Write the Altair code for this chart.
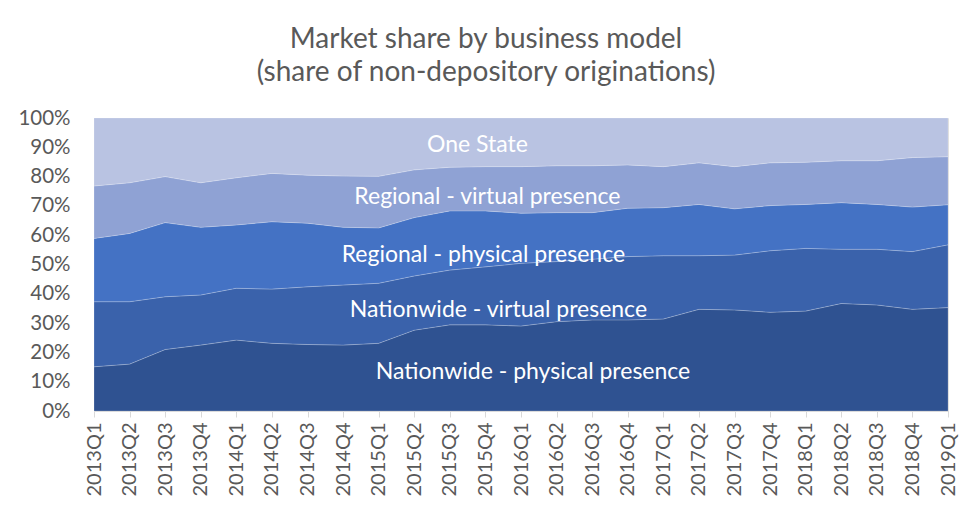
import altair as alt
import pandas as pd

quarters = [f"{y}Q{q}" for y in range(2013, 2019) for q in range(1, 5)] + ["2019Q1"]

series_names = [
    "Nationwide - physical presence",
    "Nationwide - virtual presence",
    "Regional - physical presence",
    "Regional - virtual presence",
    "One State",
]

nationwide_physical = [15.1, 16.0, 21.0, 22.5, 24.2, 23.1, 22.7, 22.5, 23.1, 27.6, 29.4, 29.4, 29.0,
                       30.5, 31.1, 31.1, 31.4, 34.7, 34.5, 33.7, 34.1, 36.7, 36.2, 34.7, 35.3]
nationwide_virtual = [22.2, 21.3, 18.0, 17.1, 17.7, 18.5, 19.7, 20.5, 20.5, 18.5, 18.7, 19.8, 21.4,
                      20.5, 20.7, 21.6, 21.6, 18.3, 18.7, 21.0, 21.4, 18.5, 19.0, 19.7, 21.4]
regional_physical = [21.6, 23.3, 25.3, 23.1, 21.6, 23.0, 21.7, 19.7, 18.9, 19.9, 20.2, 19.1, 17.1,
                     16.7, 15.9, 16.5, 16.4, 17.5, 15.8, 15.4, 15.0, 15.9, 15.3, 15.2, 13.7]
regional_virtual = [17.9, 17.3, 15.7, 15.2, 16.1, 16.5, 16.4, 17.5, 17.6, 16.3, 14.9, 15.1, 15.9,
                    16.0, 16.0, 14.8, 14.0, 14.2, 14.4, 14.6, 14.4, 14.3, 14.9, 16.9, 16.4]
one_state = [23.2, 22.1, 20.0, 22.1, 20.4, 18.9, 19.5, 19.8, 19.9, 17.7, 16.8, 16.6, 16.6,
             16.3, 16.3, 16.0, 16.6, 15.3, 16.6, 15.3, 15.1, 14.6, 14.6, 13.5, 13.2]

colors = ["#2F5291", "#3A62AB", "#4472C4", "#8FA2D4", "#B9C3E2"]

# label placement: (series, quarter, y value %, dx)
label_quarters = ["2016Q1", "2015Q4", "2015Q4", "2015Q4", "2015Q4"]
label_values = [13.3, 34.5, 53.2, 73.0, 90.8]
label_dx = [12, 13, -2, 2, -8]

y_ticks = [0, 10, 20, 30, 40, 50, 60, 70, 80, 90, 100]

all_series = [nationwide_physical, nationwide_virtual, regional_physical, regional_virtual, one_state]
rows = []
for k, (name, vals) in enumerate(zip(series_names, all_series)):
    for q, v in zip(quarters, vals):
        rows.append({"quarter": q, "series": name, "value": v / 100.0, "order": k})
df = pd.DataFrame(rows)

FONT = "Lato"
GREY = "#595959"

x_axis = alt.Axis(
    labelAngle=-90,
    labelFontSize=20,
    labelColor=GREY,
    labelFont=FONT,
    labelPadding=5,
    domainColor="#D9D9D9",
    tickColor="#D9D9D9",
    tickSize=6,
    labelBaseline="middle",
    labelOverlap=False,
)
y_axis = alt.Axis(
    format=".0%",
    values=[t / 100 for t in y_ticks],
    labelFontSize=20.5,
    labelColor=GREY,
    labelFont=FONT,
    labelPadding=24,
    labelOverlap=False,
    domain=False,
    ticks=False,
    grid=False,
)
x_scale = alt.Scale(padding=0)
y_scale = alt.Scale(domain=[0, 1], nice=False)

area = alt.Chart(df).mark_area(strokeWidth=0.8, stroke="#ffffff", strokeOpacity=0.25).encode(
    x=alt.X("quarter:O", sort=quarters, scale=x_scale, title=None, axis=x_axis),
    y=alt.Y("value:Q", stack="zero", scale=y_scale, title=None, axis=y_axis),
    color=alt.Color(
        "series:N",
        scale=alt.Scale(domain=series_names, range=colors),
        legend=None,
    ),
    order=alt.Order("order:Q"),
)

layers = [area]
for name, q, v, dx in zip(series_names, label_quarters, label_values, label_dx):
    ldf = pd.DataFrame({"quarter": [q], "value": [v / 100.0], "label": [name]})
    layers.append(
        alt.Chart(ldf)
        .mark_text(color="white", fontSize=23, font=FONT, dx=dx, align="center", baseline="middle")
        .encode(
            x=alt.X("quarter:O", sort=quarters, scale=x_scale, title=None, axis=x_axis),
            y=alt.Y("value:Q", scale=y_scale, title=None, axis=y_axis),
            text="label:N",
        )
    )

chart = (
    alt.layer(*layers)
    .properties(
        width=854,
        height=293,
        padding={"left": 86, "top": 110, "right": 15, "bottom": 100},
        autosize=alt.AutoSizeParams(type="none"),
        title=alt.TitleParams(
            text=["Market share by business model", "(share of non-depository originations)"],
            fontSize=28,
            font=FONT,
            fontWeight="normal",
            color=GREY,
            anchor="middle",
            dx=-35,
            offset=21,
            lineHeight=33,
        ),
    )
    .configure_view(strokeWidth=0)
    .configure(background="white")
)

chart.save("out.html", embed_options={"renderer": "svg", "actions": False})
